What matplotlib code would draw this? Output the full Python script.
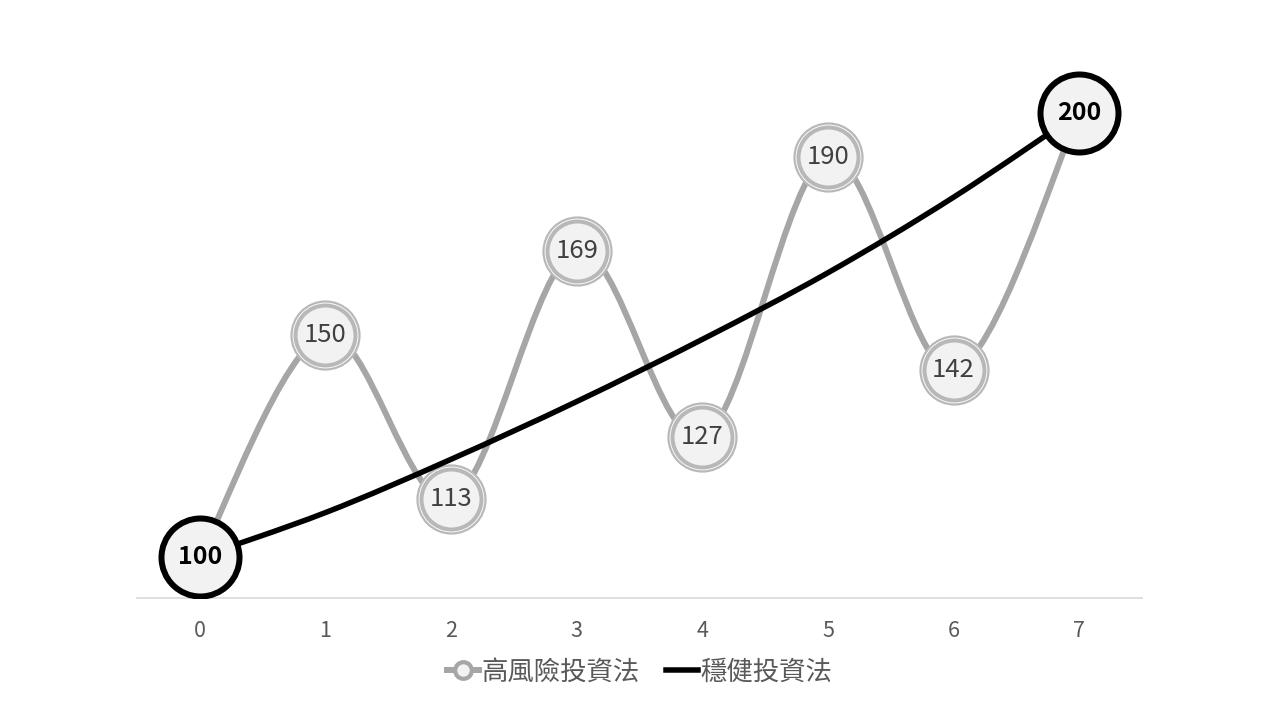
import matplotlib
matplotlib.use("Agg")
import matplotlib.pyplot as plt
from matplotlib.path import Path
from matplotlib.patches import PathPatch
from matplotlib.lines import Line2D

plt.rcParams["font.family"] = ["Noto Sans CJK TC", "DejaVu Sans"]

# 資料
periods = [0, 1, 2, 3, 4, 5, 6, 7]
high_risk = [100, 150, 113, 169, 127, 190, 142, 200]
steady = [100, 110, 122, 135, 149, 164, 181, 200]
steady_marked = [0, 7]
labels = ["高風險投資法", "穩健投資法"]

GRAY = "#a6a6a6"
RING = "#b8b8b8"
FILL = "#f2f2f2"
PX = 72 / 100  # pixel -> point


def smooth_path(xs, ys):
    # Excel-like smoothed line as cubic Bezier segments
    n = len(xs)
    verts = [(xs[0], ys[0])]
    codes = [Path.MOVETO]
    for i in range(n - 1):
        x0, y0 = xs[max(i - 1, 0)], ys[max(i - 1, 0)]
        x1, y1 = xs[i], ys[i]
        x2, y2 = xs[i + 1], ys[i + 1]
        x3, y3 = xs[min(i + 2, n - 1)], ys[min(i + 2, n - 1)]
        c1 = (x1 + (x2 - x0) / 6, y1 + (y2 - y0) / 6)
        c2 = (x2 - (x3 - x1) / 6, y2 - (y3 - y1) / 6)
        verts += [c1, c2, (x2, y2)]
        codes += [Path.CURVE4] * 3
    return Path(verts, codes)


def main():
    fig = plt.figure(figsize=(12.8, 7.2), dpi=100)
    ax = fig.add_axes([137 / 1280, 1 - 598 / 720, 1005 / 1280, 558 / 720])

    ax.add_patch(PathPatch(smooth_path(periods, high_risk), fill=False,
                           edgecolor=GRAY, lw=6 * PX, capstyle="round", zorder=2))
    # double-ring markers
    ax.plot(periods, high_risk, ls="none", marker="o", ms=68 * PX, mfc="white",
            mec=RING, mew=2.2 * PX, zorder=3)
    ax.plot(periods, high_risk, ls="none", marker="o", ms=60 * PX, mfc=FILL,
            mec=RING, mew=4 * PX, zorder=3)
    for x, y in zip(periods, high_risk):
        if x in steady_marked:
            continue
        ax.text(x, y, str(y), ha="center", va="center", fontsize=18.5,
                color="#404040", zorder=6)

    ax.add_patch(PathPatch(smooth_path(periods, steady), fill=False,
                           edgecolor="black", lw=5.5 * PX, capstyle="round", zorder=4))
    sx = [periods[i] for i in steady_marked]
    sy = [steady[i] for i in steady_marked]
    ax.plot(sx, sy, ls="none", marker="o", ms=78 * PX, mfc=FILL,
            mec="black", mew=6 * PX, zorder=5)
    for x, y in zip(sx, sy):
        ax.text(x, y, str(y), ha="center", va="center", fontsize=18,
                color="black", fontweight="bold", zorder=6)

    ax.set_xlim(-0.5, 7.5)
    ax.set_ylim(90.77, 216.4)
    ax.set_xticks(periods)
    ax.set_xticklabels([str(p) for p in periods])
    ax.set_yticks([])
    for s in ["top", "left", "right"]:
        ax.spines[s].set_visible(False)
    ax.spines["bottom"].set_color("#d9d9d9")
    ax.spines["bottom"].set_linewidth(1.2)
    ax.tick_params(axis="x", length=0, labelsize=15.5, labelcolor="#595959", pad=16)

    handles = [
        Line2D([], [], color=GRAY, lw=6 * PX, marker="o", ms=12, mfc=FILL,
               mec=GRAY, mew=3),
        Line2D([], [], color="black", lw=5.5 * PX),
    ]
    fig.legend(handles, labels, loc="center", bbox_to_anchor=(0.5, 1 - 672 / 720),
               ncol=2, frameon=False, fontsize=19, labelcolor="#595959",
               handlelength=1.2, handletextpad=0.1, columnspacing=1.0)

    fig.savefig("out.png", dpi=100)


if __name__ == "__main__":
    main()
